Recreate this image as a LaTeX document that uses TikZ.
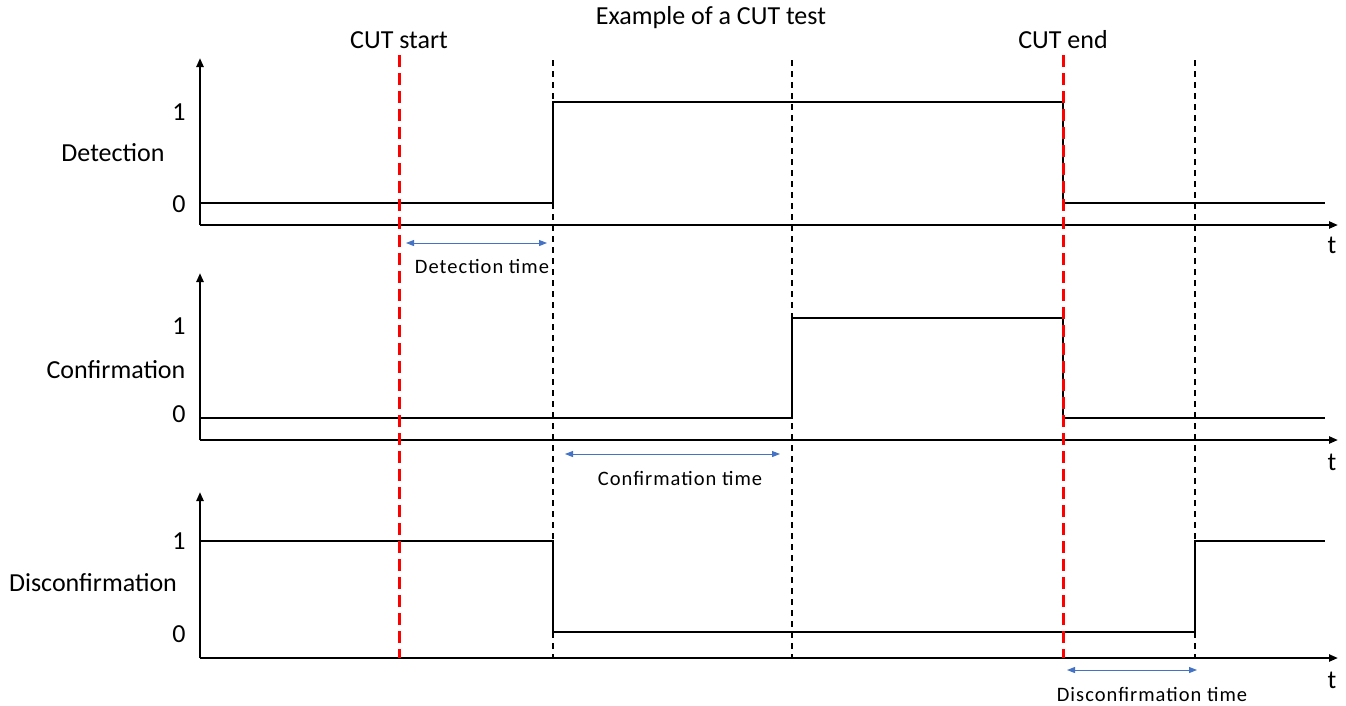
\documentclass[tikz,border=0pt]{standalone}
\usepackage{fontspec}
\setmainfont{Carlito}
\usetikzlibrary{arrows.meta}
\definecolor{arrowblue}{RGB}{68,114,196}
\definecolor{cutred}{RGB}{255,0,0}
\begin{document}
\begin{tikzpicture}[x=1pt,y=-1pt,
  axis/.style={line width=2.2pt,-{Triangle[length=9pt,width=7pt]}},
  signal/.style={line width=2.2pt,line join=miter},
  guide/.style={line width=1.4pt,dash pattern=on 6pt off 5pt},
  cutline/.style={line width=3pt,cutred,dash pattern=on 12pt off 6pt},
  span/.style={arrowblue,line width=1pt,{Triangle[length=8pt,width=6pt]}-{Triangle[length=8pt,width=6pt]}},
  lbl/.style={font=\fontsize{26}{30}\selectfont,inner sep=0pt},
  small/.style={font=\fontsize{20.5}{24}\selectfont\addfontfeatures{LetterSpace=5},inner sep=0pt}]
\useasboundingbox (0,0) rectangle (1346,705);

% titles
\node[lbl] (title) at (711,18) {Example of a CUT test};
\node[lbl] (cs) at (399,40) {CUT start};
\node[lbl] (ce) at (1063,40) {CUT end};

% guide lines (time marks)
\foreach \n/\x in {a/553,b/792,c/1195}{
  \coordinate (\n top) at (\x,60);
  \coordinate (\n bot) at (\x,658);
  \draw[guide] (\n top) -- (\n bot);
}
\foreach \n/\x in {s/399,e/1063}{
  \coordinate (\n top) at (\x,55);
  \coordinate (\n bot) at (\x,658);
}

% ---------- Detection ----------
\coordinate (o1) at (200,225);
\coordinate (y1) at (200,58);
\coordinate (x1) at (1338,225);
\draw[axis] (o1) -- (y1);
\draw[axis] (o1) -- (x1);
\draw[signal] (200,203) -- (553,203) -- (553,102) -- (1063,102) -- (1063,203) -- (1325,203);
\node[lbl] (d1) at (179,112) {1};
\node[lbl] (d0) at (179,204) {0};
\node[lbl] (dl) at (113,153) {Detection};
\node[lbl] (dt) at (1332,245) {t};

% ---------- Confirmation ----------
\coordinate (o2) at (200,440);
\coordinate (y2) at (200,273);
\coordinate (x2) at (1338,440);
\draw[axis] (o2) -- (y2);
\draw[axis] (o2) -- (x2);
\draw[signal] (200,418) -- (792,418) -- (792,318) -- (1063,318) -- (1063,418) -- (1325,418);
\node[lbl] (c1) at (179,326) {1};
\node[lbl] (c0) at (179,414) {0};
\node[lbl] (cl) at (116,370) {Confirmation};
\node[lbl] (ct) at (1332,462) {t};

% ---------- Disconfirmation ----------
\coordinate (o3) at (200,658);
\coordinate (y3) at (200,492);
\coordinate (x3) at (1338,658);
\draw[axis] (o3) -- (y3);
\draw[axis] (o3) -- (x3);
\draw[signal] (200,541) -- (553,541) -- (553,632) -- (1195,632) -- (1195,541) -- (1325,541);
\node[lbl] (n1) at (179,541) {1};
\node[lbl] (n0) at (179,634) {0};
\node[lbl] (nl) at (93,583) {Disconfirmation};
\node[lbl] (nt) at (1332,680) {t};

% CUT start / end markers
\draw[cutline] (stop) -- (sbot);
\draw[cutline] (etop) -- (ebot);

% durations
\coordinate (p1) at (406,243); \coordinate (q1) at (547,243);
\draw[span] (p1) -- (q1);
\node[small] (dtime) at (482,266) {Detection time};
\coordinate (p2) at (565,454); \coordinate (q2) at (780,454);
\draw[span] (p2) -- (q2);
\node[small] (ctime) at (680,478) {Confirmation time};
\coordinate (p3) at (1067,670); \coordinate (q3) at (1197,670);
\draw[span] (p3) -- (q3);
\node[small] (ntime) at (1152,694) {Disconfirmation time};
\end{tikzpicture}
\end{document}
